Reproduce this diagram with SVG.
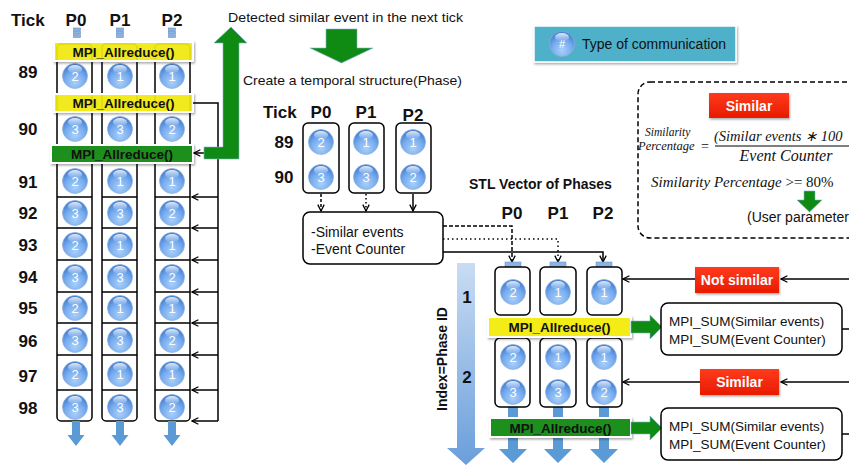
<svg xmlns="http://www.w3.org/2000/svg" xmlns:xlink="http://www.w3.org/1999/xlink" width="849" height="465" viewBox="0 0 849 465">
  <style>
    .hd { font-family: "Liberation Sans", Arial, sans-serif; font-weight: bold; font-size: 17px; fill: #111; }
    .hd14 { font-family: "Liberation Sans", Arial, sans-serif; font-weight: bold; font-size: 14px; fill: #111; }
    .tick { font-family: "Liberation Sans", Arial, sans-serif; font-weight: bold; font-size: 17px; fill: #111; text-anchor: middle; }
    .num { font-family: "Liberation Sans", Arial, sans-serif; font-size: 13px; fill: #ffffff; text-anchor: middle; }
    .bar { font-family: "Liberation Sans", Arial, sans-serif; font-weight: bold; font-size: 13.5px; fill: #111; text-anchor: middle; }
    .txt { font-family: "Liberation Sans", Arial, sans-serif; font-size: 13.5px; fill: #111; }
    .txt14 { font-family: "Liberation Sans", Arial, sans-serif; font-size: 14px; fill: #111; }
    .math { font-family: "Liberation Serif", "Times New Roman", serif; font-style: italic; fill: #111; }
    .col { fill: #fff; stroke: #000; stroke-width: 1.5; }
    .div { stroke: #000; stroke-width: 1.5; }
    .ln { fill: none; stroke: #000; stroke-width: 1.5; }
    .ybar { fill: #f3ec12; stroke: #fff; stroke-width: 2; filter: url(#shadow); }
    .gbar { fill: #1f8f1f; stroke: #fff; stroke-width: 2; filter: url(#shadow); }
    .red { fill: url(#redGrad); filter: url(#shadow); }
    .redt { font-family: "Liberation Sans", Arial, sans-serif; font-weight: bold; font-size: 14px; fill: #fff; text-anchor: middle; }
    .green { fill: #0f8a12; stroke: #7fb0d8; stroke-width: 0.6; }
    .blue { fill: #5b9bd5; }
    .tab { fill: #8db3e2; stroke: #6f98cc; stroke-width: 0.6; }
  </style>
  <defs>
    <filter id="shadow" x="-10%" y="-20%" width="120%" height="150%">
      <feDropShadow dx="1" dy="1.5" stdDeviation="1.2" flood-color="#000" flood-opacity="0.35"/>
    </filter>
    <radialGradient id="ballGrad" cx="0.5" cy="0.75" r="0.72">
      <stop offset="0" stop-color="#a9d0fa"/>
      <stop offset="0.55" stop-color="#78acee"/>
      <stop offset="1" stop-color="#3d7bd2"/>
    </radialGradient>
    <linearGradient id="glossGrad" x1="0" y1="0" x2="0" y2="1">
      <stop offset="0" stop-color="#fff" stop-opacity="0.85"/>
      <stop offset="1" stop-color="#fff" stop-opacity="0"/>
    </linearGradient>
    <linearGradient id="redGrad" x1="0" y1="0" x2="0" y2="1">
      <stop offset="0" stop-color="#ff3b1c"/>
      <stop offset="1" stop-color="#e81a00"/>
    </linearGradient>
    <linearGradient id="indexGrad" x1="0" y1="0" x2="0" y2="1">
      <stop offset="0" stop-color="#c9dcf3"/>
      <stop offset="1" stop-color="#6a9edb"/>
    </linearGradient>
    <g id="ball">
      <circle r="12.5" fill="url(#ballGrad)" stroke="#8fb0da" stroke-width="0.7"/>
      <ellipse cx="0" cy="-6.8" rx="7" ry="4.2" fill="url(#glossGrad)"/>
    </g>
    <g id="queue">
      <rect x="-3.5" y="0" width="7" height="2.6" fill="#8db3e2" stroke="#5f8cc4" stroke-width="0.6"/>
      <rect x="-3.5" y="3.4" width="7" height="2.6" fill="#8db3e2" stroke="#5f8cc4" stroke-width="0.6"/>
      <rect x="-3.5" y="6.8" width="7" height="2.6" fill="#8db3e2" stroke="#5f8cc4" stroke-width="0.6"/>
    </g>
    <marker id="ah" viewBox="0 0 10 10" refX="9" refY="5" markerWidth="8" markerHeight="8" markerUnits="userSpaceOnUse" orient="auto">
      <path d="M1,1 L9,5 L1,9" fill="none" stroke="#000" stroke-width="1.6"/>
    </marker>
  </defs>

  <!-- ===== Left: per-tick event table ===== -->
  <g id="left-headers">
    <text class="hd" x="11" y="26">Tick</text>
    <text class="tick" x="76" y="26">P0</text>
    <text class="tick" x="120" y="26">P1</text>
    <text class="tick" x="172" y="26">P2</text>
    <use href="#queue" x="77" y="28"/>
    <use href="#queue" x="120" y="28"/>
    <use href="#queue" x="172" y="28"/>
  </g>

  <g id="left-columns">
    <rect class="col" x="57" y="44" width="35" height="377" rx="4"/>
    <rect class="col" x="102" y="44" width="35" height="377" rx="4"/>
    <rect class="col" x="155" y="44" width="35" height="377" rx="4"/>
    <g class="div">
      <path d="M57,197H92M102,197H137M155,197H190"/>
      <path d="M57,228H92M102,228H137M155,228H190"/>
      <path d="M57,260H92M102,260H137M155,260H190"/>
      <path d="M57,292H92M102,292H137M155,292H190"/>
      <path d="M57,323H92M102,323H137M155,323H190"/>
      <path d="M57,355H92M102,355H137M155,355H190"/>
      <path d="M57,390H92M102,390H137M155,390H190"/>
    </g>
  </g>

  <g id="tick-labels">
    <text class="tick" x="28" y="78">89</text>
    <text class="tick" x="28" y="135">90</text>
    <text class="tick" x="28" y="188">91</text>
    <text class="tick" x="28" y="219">92</text>
    <text class="tick" x="28" y="251">93</text>
    <text class="tick" x="28" y="283">94</text>
    <text class="tick" x="28" y="314">95</text>
    <text class="tick" x="28" y="347">96</text>
    <text class="tick" x="28" y="382">97</text>
    <text class="tick" x="28" y="414">98</text>
  </g>

  <g id="left-events">
    <!-- tick 89 -->
    <use href="#ball" x="75" y="76"/><text class="num" x="75" y="81">2</text>
    <use href="#ball" x="120" y="76"/><text class="num" x="120" y="81">1</text>
    <use href="#ball" x="172" y="76"/><text class="num" x="172" y="81">1</text>
    <!-- tick 90 -->
    <use href="#ball" x="75" y="129"/><text class="num" x="75" y="134">3</text>
    <use href="#ball" x="120" y="129"/><text class="num" x="120" y="134">3</text>
    <use href="#ball" x="172" y="129"/><text class="num" x="172" y="134">2</text>
    <!-- tick 91 -->
    <use href="#ball" x="75" y="181"/><text class="num" x="75" y="186">2</text>
    <use href="#ball" x="120" y="181"/><text class="num" x="120" y="186">1</text>
    <use href="#ball" x="172" y="181"/><text class="num" x="172" y="186">1</text>
    <!-- tick 92 -->
    <use href="#ball" x="75" y="213"/><text class="num" x="75" y="218">3</text>
    <use href="#ball" x="120" y="213"/><text class="num" x="120" y="218">3</text>
    <use href="#ball" x="172" y="213"/><text class="num" x="172" y="218">2</text>
    <!-- tick 93 -->
    <use href="#ball" x="75" y="245"/><text class="num" x="75" y="250">2</text>
    <use href="#ball" x="120" y="245"/><text class="num" x="120" y="250">1</text>
    <use href="#ball" x="172" y="245"/><text class="num" x="172" y="250">1</text>
    <!-- tick 94 -->
    <use href="#ball" x="75" y="277"/><text class="num" x="75" y="282">3</text>
    <use href="#ball" x="120" y="277"/><text class="num" x="120" y="282">3</text>
    <use href="#ball" x="172" y="277"/><text class="num" x="172" y="282">2</text>
    <!-- tick 95 -->
    <use href="#ball" x="75" y="308"/><text class="num" x="75" y="313">2</text>
    <use href="#ball" x="120" y="308"/><text class="num" x="120" y="313">1</text>
    <use href="#ball" x="172" y="308"/><text class="num" x="172" y="313">1</text>
    <!-- tick 96 -->
    <use href="#ball" x="75" y="340"/><text class="num" x="75" y="345">3</text>
    <use href="#ball" x="120" y="340"/><text class="num" x="120" y="345">3</text>
    <use href="#ball" x="172" y="340"/><text class="num" x="172" y="345">2</text>
    <!-- tick 97 -->
    <use href="#ball" x="75" y="374"/><text class="num" x="75" y="379">2</text>
    <use href="#ball" x="120" y="374"/><text class="num" x="120" y="379">1</text>
    <use href="#ball" x="172" y="374"/><text class="num" x="172" y="379">1</text>
    <!-- tick 98 -->
    <use href="#ball" x="75" y="407"/><text class="num" x="75" y="412">3</text>
    <use href="#ball" x="120" y="407"/><text class="num" x="120" y="412">3</text>
    <use href="#ball" x="172" y="407"/><text class="num" x="172" y="412">2</text>
  </g>

  <g id="left-down-arrows" class="blue">
    <path d="M72,421H80V435H84.5L76,446L67.5,435H72Z"/>
    <path d="M116,421H124V435H128.5L120,446L111.5,435H116Z"/>
    <path d="M168,421H176V435H180.5L172,446L163.5,435H168Z"/>
  </g>

  <g id="allreduce-89">
    <rect class="ybar" x="54" y="42" width="139" height="19" fill-opacity="0.9"/>
    <text class="bar" x="123.5" y="56.5">MPI_Allreduce()</text>
  </g>
  <g id="allreduce-90">
    <rect class="ybar" x="54" y="94" width="139" height="18" fill-opacity="0.9"/>
    <text class="bar" x="123.5" y="108">MPI_Allreduce()</text>
  </g>
  <g id="allreduce-detected">
    <rect class="gbar" x="51" y="145" width="142" height="18"/>
    <text class="bar" x="122" y="159">MPI_Allreduce()</text>
  </g>

  <g id="connectors">
    <!-- feedback lines into each tick -->
    <path class="ln" d="M193,103H218V421"/>
    <g class="ln" marker-end="url(#ah)">
      <path d="M218,197H192"/>
      <path d="M218,228H192"/>
      <path d="M218,260H192"/>
      <path d="M218,292H192"/>
      <path d="M218,323H192"/>
      <path d="M218,355H192"/>
      <path d="M218,390H192"/>
      <path d="M218,421H192"/>
      <path d="M205,153H194"/>
    </g>
    <!-- phase boxes into the counters box -->
    <path class="ln" d="M321,194V211" stroke-dasharray="3,2" marker-end="url(#ah)"/>
    <path class="ln" d="M366,194V211" stroke-dasharray="1.5,2.5" marker-end="url(#ah)"/>
    <path class="ln" d="M413,194V211" marker-end="url(#ah)"/>
    <!-- counters box into the STL vector -->
    <path class="ln" d="M443,226H512V262" stroke-dasharray="4,2" marker-end="url(#ah)"/>
    <path class="ln" d="M443,239H558V262" stroke-dasharray="1.5,3" marker-end="url(#ah)"/>
    <path class="ln" d="M443,252H603V262" marker-end="url(#ah)"/>
    <!-- results coming back from the right -->
    <path class="ln" d="M849,279H781" marker-end="url(#ah)"/>
    <path class="ln" d="M696,279H623" marker-end="url(#ah)"/>
    <path class="ln" d="M849,382H781" marker-end="url(#ah)"/>
    <path class="ln" d="M701,382H623" marker-end="url(#ah)"/>
    <path class="ln" d="M842,329H849"/>
    <path class="ln" d="M842,434H849"/>
  </g>

  <!-- green L-shaped arrow: detected similar event -->
  <g id="detect-arrow">
    <path class="green" d="M231,27L247,43H239V159H204V147H223V43H214Z"/>
    <text class="txt" x="228" y="22" textLength="235" lengthAdjust="spacingAndGlyphs">Detected similar event in the next tick</text>
  </g>

  <g id="create-arrow">
    <path class="green" d="M326,29H357V48H373L341.5,63L310,48H326Z"/>
    <text class="txt" x="243" y="85" textLength="219" lengthAdjust="spacingAndGlyphs">Create a temporal structure(Phase)</text>
  </g>

  <!-- ===== Middle: temporal phase structure ===== -->
  <g id="phase-headers">
    <text class="hd" x="263" y="118">Tick</text>
    <text class="tick" x="321" y="118">P0</text>
    <text class="tick" x="366" y="118">P1</text>
    <text class="tick" x="413" y="121">P2</text>
    <text class="tick" x="284" y="148">89</text>
    <text class="tick" x="284" y="183">90</text>
  </g>
  <g id="phase-p0">
    <rect class="col" x="303" y="123" width="36" height="70" rx="5"/>
    <use href="#ball" x="321" y="142"/><text class="num" x="321" y="147">2</text>
    <use href="#ball" x="321" y="177"/><text class="num" x="321" y="182">3</text>
  </g>
  <g id="phase-p1">
    <rect class="col" x="349" y="123" width="35" height="70" rx="5"/>
    <use href="#ball" x="366" y="142"/><text class="num" x="366" y="147">1</text>
    <use href="#ball" x="366" y="177"/><text class="num" x="366" y="182">3</text>
  </g>
  <g id="phase-p2">
    <rect class="col" x="396" y="123" width="35" height="70" rx="5"/>
    <use href="#ball" x="413" y="142"/><text class="num" x="413" y="147">1</text>
    <use href="#ball" x="413" y="177"/><text class="num" x="413" y="182">2</text>
  </g>
  <g id="phase-counters">
    <rect class="col" x="303" y="212" width="140" height="52" rx="7"/>
    <text class="txt14" x="311" y="237">-Similar events</text>
    <text class="txt14" x="311" y="254">-Event Counter</text>
  </g>

  <!-- ===== Legend ===== -->
  <g id="legend">
    <rect x="534" y="26" width="202" height="36" fill="#4fb0c9" stroke="#fff" stroke-width="1.5" filter="url(#shadow)"/>
    <use href="#ball" x="562" y="44"/>
    <text class="num" x="562" y="48" style="font-size:11px">#</text>
    <text class="txt14" x="582" y="49">Type of communication</text>
  </g>

  <!-- ===== Similarity rule ===== -->
  <g id="similarity-rule">
    <rect x="638" y="82" width="240" height="156" rx="12" fill="none" stroke="#000" stroke-width="1.5" stroke-dasharray="5,3"/>
    <rect class="red" x="709" y="93" width="80" height="25"/>
    <text class="redt" x="749" y="111">Similar</text>
    <text class="math" x="645" y="136" style="font-size:11.5px">Similarity</text>
    <text class="math" x="638" y="150" style="font-size:12.5px">Percentage</text>
    <text class="math" x="701" y="151" style="font-size:14px;font-style:normal">=</text>
    <text class="math" x="714" y="141" style="font-size:14.5px">(Similar events ∗ 100</text>
    <path d="M715,146H849" stroke="#000" stroke-width="1"/>
    <text class="math" x="786" y="161" style="font-size:16px" text-anchor="middle">Event Counter</text>
    <text class="math" x="651" y="187" style="font-size:15px">Similarity Percentage <tspan style="font-style:normal">&gt;= 80%</tspan></text>
    <path class="green" d="M804,191H815V200H822L809.5,212L797,200H804Z"/>
    <text class="txt14" x="747" y="222">(User parameter</text>
  </g>

  <!-- ===== STL vector of phases ===== -->
  <g id="stl-headers">
    <text class="hd14" x="469" y="189">STL Vector of Phases</text>
    <text class="tick" x="512" y="219">P0</text>
    <text class="tick" x="558" y="219">P1</text>
    <text class="tick" x="603" y="219">P2</text>
  </g>

  <g id="phase-index">
    <path d="M457,263H475V448H485L466,465L447,448H457Z" fill="url(#indexGrad)"/>
    <text class="tick" x="467" y="303">1</text>
    <text class="tick" x="467" y="383">2</text>
    <text class="hd14" text-anchor="middle" transform="translate(447,359) rotate(-90)">Index=Phase ID</text>
  </g>

  <g id="stl-down-arrows" class="blue">
    <path d="M508,400H518V449H527L513,463L499,449H508Z"/>
    <path d="M553,400H563V449H572L558,463L544,449H553Z"/>
    <path d="M599,400H609V449H618L604,463L590,449H599Z"/>
  </g>

  <g id="stl-phase1">
    <rect class="tab" x="505" y="262" width="16" height="5"/>
    <rect class="tab" x="550" y="262" width="16" height="5"/>
    <rect class="tab" x="596" y="262" width="16" height="5"/>
    <rect class="col" x="495" y="267" width="35" height="48" rx="5"/>
    <rect class="col" x="540" y="267" width="36" height="48" rx="5"/>
    <rect class="col" x="587" y="267" width="35" height="48" rx="5"/>
    <use href="#ball" x="513" y="292"/><text class="num" x="513" y="297">2</text>
    <use href="#ball" x="558" y="292"/><text class="num" x="558" y="297">1</text>
    <use href="#ball" x="604" y="292"/><text class="num" x="604" y="297">1</text>
  </g>

  <g id="stl-phase2">
    <rect class="col" x="495" y="338" width="35" height="69" rx="5"/>
    <rect class="col" x="540" y="338" width="36" height="69" rx="5"/>
    <rect class="col" x="587" y="338" width="35" height="69" rx="5"/>
    <use href="#ball" x="513" y="357"/><text class="num" x="513" y="362">2</text>
    <use href="#ball" x="558" y="357"/><text class="num" x="558" y="362">1</text>
    <use href="#ball" x="604" y="357"/><text class="num" x="604" y="362">1</text>
    <use href="#ball" x="513" y="392"/><text class="num" x="513" y="397">3</text>
    <use href="#ball" x="558" y="392"/><text class="num" x="558" y="397">3</text>
    <use href="#ball" x="604" y="392"/><text class="num" x="604" y="397">2</text>
  </g>

  <g id="stl-allreduce-1">
    <rect class="ybar" x="488" y="317" width="143" height="20"/>
    <text class="bar" x="559.5" y="332">MPI_Allreduce()</text>
    <path class="green" d="M631,321H650V315L662,327L650,339V333H631Z"/>
  </g>
  <g id="stl-allreduce-2">
    <rect class="gbar" x="490" y="418" width="141" height="19"/>
    <text class="bar" x="560.5" y="432.5">MPI_Allreduce()</text>
    <path class="green" d="M631,422H650V416L662,428L650,440V434H631Z"/>
  </g>

  <!-- ===== Reduction results ===== -->
  <g id="sum-1">
    <rect class="col" x="661" y="303" width="181" height="52" rx="7"/>
    <text class="txt" x="669" y="326">MPI_SUM(Similar events)</text>
    <text class="txt" x="669" y="344">MPI_SUM(Event Counter)</text>
  </g>
  <g id="sum-2">
    <rect class="col" x="661" y="408" width="181" height="52" rx="7"/>
    <text class="txt" x="669" y="431">MPI_SUM(Similar events)</text>
    <text class="txt" x="669" y="449">MPI_SUM(Event Counter)</text>
  </g>
  <g id="label-not-similar">
    <rect class="red" x="695" y="267" width="84" height="26"/>
    <text class="redt" x="737" y="285">Not similar</text>
  </g>
  <g id="label-similar">
    <rect class="red" x="700" y="369" width="79" height="26"/>
    <text class="redt" x="739.5" y="387">Similar</text>
  </g>
</svg>
